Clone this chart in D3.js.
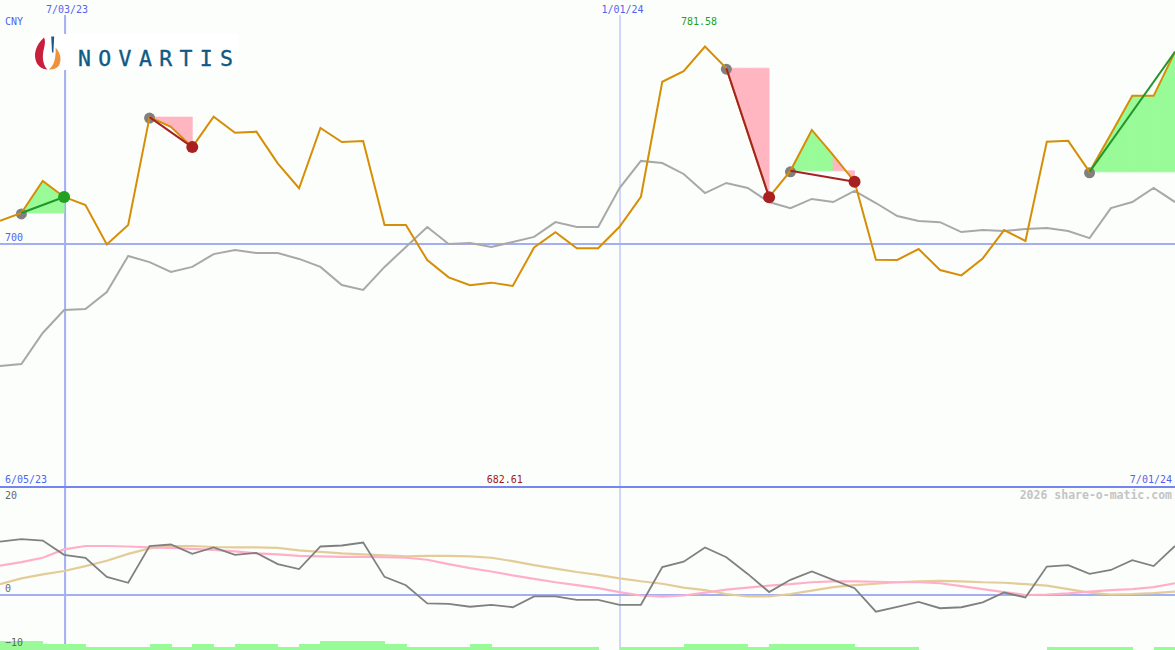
<!DOCTYPE html>
<html><head><meta charset="utf-8">
<script src="https://cdn.jsdelivr.net/npm/d3@7"></script>
<style>
html,body{margin:0;padding:0;background:#fcfefc;}
svg{display:block;}
text{font-family:"DejaVu Sans Mono",monospace;}
</style></head>
<body>
<svg id="chart" width="1175" height="650"></svg>
<script>
// ---- data (weekly, 12 Jun 2023 .. 1 Jul 2024) ----
const price = [709.5,712.8,726.0,719.4,716.1,699.8,707.8,752.4,748.4,740.0,
  752.6,745.9,746.4,733.3,723.0,747.9,742.1,742.5,707.8,707.8,
  693.3,686.2,682.9,684.0,682.61,698.5,704.8,698.2,698.2,707.1,
  719.5,767.0,771.4,781.58,772.6,746.0,719.3,730.2,747.1,736.7,
  725.7,693.5,693.4,697.9,689.2,687.0,694.0,705.7,701.2,742.2,
  742.6,729.8,745.4,761.2,761.2,779.4];
const average = [649.5,650.4,663.2,672.7,673.1,680.1,695.0,692.5,688.4,690.5,
  695.8,697.5,696.2,696.2,693.8,690.5,683.0,681.0,690.5,698.7,
  707.0,700.0,700.4,698.7,700.8,702.9,709.0,707.0,707.0,723.1,
  734.3,733.4,728.9,721.0,725.2,723.1,717.3,714.8,718.6,717.3,
  721.9,716.9,711.5,709.5,709.0,704.9,705.7,705.3,706.2,706.6,
  705.3,702.4,714.8,717.3,723.1,717.3];
const oscillator = [10.9,11.4,11.1,8.2,7.6,3.7,2.5,10.0,10.3,8.4,
  9.7,8.2,8.6,6.3,5.3,9.9,10.1,10.7,3.7,2.0,
  -1.7,-1.8,-2.4,-2.0,-2.5,-0.3,-0.3,-1.0,-1.0,-2.0,
  -2.0,5.7,6.8,9.7,7.7,4.3,0.6,3.1,4.8,3.1,
  1.4,-3.4,-2.4,-1.4,-2.7,-2.5,-1.5,0.5,-0.5,5.8,
  6.1,4.3,5.1,7.1,5.9,10.0];
const signalPink = [6.0,6.7,7.6,9.3,10.0,10.0,9.9,9.7,9.6,9.4,
  9.2,8.9,8.5,8.3,8.0,7.9,7.8,7.8,7.7,7.6,
  7.2,6.3,5.5,4.8,4.0,3.3,2.6,2.0,1.4,0.6,
  -0.1,-0.35,-0.1,0.5,1.1,1.5,1.9,2.2,2.6,2.8,
  2.8,2.7,2.6,2.6,2.4,1.8,1.2,0.6,0.0,0.1,
  0.35,0.7,1.0,1.2,1.6,2.4];
const signalTan = [2.2,3.4,4.2,4.9,5.9,7.0,8.4,9.5,10.0,10.0,
  9.8,9.7,9.7,9.6,9.1,8.8,8.5,8.3,8.1,7.9,
  8.0,8.0,7.9,7.6,6.9,6.1,5.4,4.7,4.1,3.4,
  2.8,2.3,1.5,1.0,0.2,-0.3,-0.3,0.2,0.9,1.6,
  2.0,2.3,2.6,2.8,2.9,2.8,2.6,2.5,2.2,1.9,
  1.2,0.5,0.1,0.2,0.4,0.7];
const barLevels = [3,3,2,2,1,1,1,2,1,2,1,2,2,1,2,3,3,3,2,1,1,1,2,1,1,1,1,1,0,1,
  1,1,2,2,2,1,2,2,2,2,1,1,1,0,0,0,0,0,0,1,1,1,1,0,1];
const signalStart = [1,7,34,37,51];
const signalEnd   = [3,9,36,40,55];
const signalOpen  = [false,false,false,false,true];
const tickIndex = [3,29];
const tickLabels = ["7/03/23","1/01/24"];
const tickWide = [true,false];
const rangeStartLabel = "6/05/23", rangeEndLabel = "7/01/24";
const currency = "CNY";
const priceGrid = 700;
const oscTicks = [20,0,-10];

// ---- scales ----
const W = 1175, H = 650;
const svg = d3.select("#chart");
const x = d3.scaleLinear().domain([0, price.length-1]).range([0, W]);
const y = d3.scaleLinear().domain([d3.min(price), d3.max(price)]).range([286, 46.5]);
const yl = d3.scaleLinear().domain([-10, 20]).range([644, 497]);
const yb = d3.scaleLinear().domain([0, 3]).range([650, 641]);

const GRID = "#a4aef2", SEP = "#7585f0", LBL = "#5264ee";
svg.append("rect").attr("width",W).attr("height",H).attr("fill","#fcfefc");

// grid lines
svg.append("line").attr("x1",0).attr("x2",W).attr("y1",y(priceGrid)).attr("y2",y(priceGrid))
  .attr("stroke",GRID).attr("stroke-width",2);
svg.append("line").attr("x1",0).attr("x2",W).attr("y1",yl(0)).attr("y2",yl(0))
  .attr("stroke",GRID).attr("stroke-width",2);
tickIndex.forEach((t,i)=>{
  svg.append("line").attr("x1",x(t)+(tickWide[i]?1:0.5)).attr("x2",x(t)+(tickWide[i]?1:0.5))
    .attr("y1",15).attr("y2",H).attr("stroke",GRID).attr("stroke-width",tickWide[i]?2:1);
  svg.append("text").attr("x",x(t)+3).attr("y",13).attr("text-anchor","middle")
    .attr("font-size",10).attr("fill",LBL).text(tickLabels[i]);
});
svg.append("line").attr("x1",0).attr("x2",W).attr("y1",487).attr("y2",487)
  .attr("stroke",SEP).attr("stroke-width",2);

// signal fills
signalStart.forEach((a,s)=>{
  const b = signalEnd[s], base = price[a];
  for(let k=a;k<b;k++){
    const pts = [[x(k),y(base)],[x(k),y(price[k])],[x(k+1),y(price[k+1])],[x(k+1),y(base)]];
    const c = price[k+1] >= base ? "#98fb98" : "#ffb6c1";
    svg.append("path").attr("d","M"+pts.join("L")+"Z")
      .attr("fill", c).attr("stroke", c).attr("stroke-width",0.8);
  }
});

// start markers
svg.selectAll(".startm").data(signalStart).enter().append("circle")
  .attr("cx",d=>x(d)).attr("cy",d=>y(price[d])+1).attr("r",5.5).attr("fill","#808080");

// lines
const line = (ys)=>d3.line().x((d,i)=>x(i)).y(d=>ys(d));
svg.append("path").datum(average).attr("d",line(y)).attr("fill","none").attr("stroke","#a8a8a8").attr("stroke-width",2);
svg.append("path").datum(price).attr("d",line(y)).attr("fill","none").attr("stroke","#d68e06").attr("stroke-width",2);

// signal lines + end markers
signalStart.forEach((a,s)=>{
  const b = signalEnd[s];
  const up = price[b] >= price[a];
  svg.append("line").attr("x1",x(a)).attr("y1",y(price[a])).attr("x2",x(b)).attr("y2",y(price[b]))
    .attr("stroke", up ? "#22962a" : "#a52222").attr("stroke-width",2);
  if(!signalOpen[s]){
    svg.append("circle").attr("cx",x(b)).attr("cy",y(price[b])).attr("r",6)
      .attr("fill", up ? "#22a022" : "#a82020");
  }
});

// lower panel
svg.selectAll(".bar").data(barLevels).enter().append("rect")
  .attr("x",(d,i)=>x(i)).attr("width",(d,i)=>x(i+1)-x(i)+0.6)
  .attr("y",d=>yb(d)).attr("height",d=>yb(0)-yb(d)).attr("fill","#98fb98")
  .attr("shape-rendering","crispEdges");
svg.append("path").datum(signalTan).attr("d",line(yl)).attr("fill","none").attr("stroke","#e4cc98").attr("stroke-width",2.2);
svg.append("path").datum(signalPink).attr("d",line(yl)).attr("fill","none").attr("stroke","#ffb0c8").attr("stroke-width",2.2);
svg.append("path").datum(oscillator).attr("d",line(yl)).attr("fill","none").attr("stroke","#808080").attr("stroke-width",1.8);

// labels
svg.append("text").attr("x",5).attr("y",25).attr("font-size",10).attr("fill",LBL).text(currency);
svg.append("text").attr("x",5).attr("y",y(priceGrid)-3).attr("font-size",10).attr("fill",LBL).text(String(priceGrid));
svg.append("text").attr("x",5).attr("y",483).attr("font-size",10).attr("fill",LBL).text(rangeStartLabel);
svg.append("text").attr("x",W-3).attr("y",483).attr("text-anchor","end").attr("font-size",10).attr("fill",LBL).text(rangeEndLabel);
const iMax = d3.maxIndex(price), iMin = d3.minIndex(price);
svg.append("text").attr("x",x(iMax)-6).attr("y",25).attr("text-anchor","middle").attr("font-size",10)
  .attr("fill","#22a022").text(d3.max(price).toFixed(2));
svg.append("text").attr("x",x(iMin)-8).attr("y",483).attr("text-anchor","middle").attr("font-size",10)
  .attr("fill","#a01818").text(d3.min(price).toFixed(2));
oscTicks.forEach(v=>{
  svg.append("text").attr("x",5).attr("y",v===0?yl(v)-3:yl(v)+2).attr("font-size",10)
    .attr("fill","#666").text(String(v).replace("-","\u2212"));
});
svg.append("text").attr("x",W-3).attr("y",499).attr("text-anchor","end").attr("font-size",11.5)
  .attr("font-weight","bold").attr("fill","#c4c4c4").text("2026 share-o-matic.com");

// logo
const logo = svg.append("g");
logo.append("rect").attr("x",32).attr("y",34).attr("width",206).attr("height",36).attr("fill","#ffffff");
logo.append("path").attr("d","M44,37.5 C35.5,45 33,55 36.5,62.5 C38.5,66.5 42.5,69.5 47.5,69.5 C43.5,65.5 42.5,59.5 43,54 C43.5,48 46.5,43 44,37.5 Z").attr("fill","#c8203c");
logo.append("path").attr("d","M55.5,47.5 C60.5,52.5 62,60 59,65.5 C57,68.5 53,69.8 49,69.5 C52.5,66.5 54.5,62 55,58 C55.5,54.5 56,51 55.5,47.5 Z").attr("fill","#f0923a");
logo.append("path").attr("d","M51.2,36.5 L54.2,36.5 L53.4,52.5 L52,52.5 Z").attr("fill","#1a5b8a");
logo.append("text").attr("x",78).attr("y",66).attr("textLength",155).attr("lengthAdjust","spacing")
  .attr("font-family","'Liberation Serif','DejaVu Serif',serif").attr("font-size",21.5)
  .attr("fill","#0f5a85").attr("stroke","#0f5a85").attr("stroke-width",0.35).text("NOVARTIS");
</script>
</body></html>
